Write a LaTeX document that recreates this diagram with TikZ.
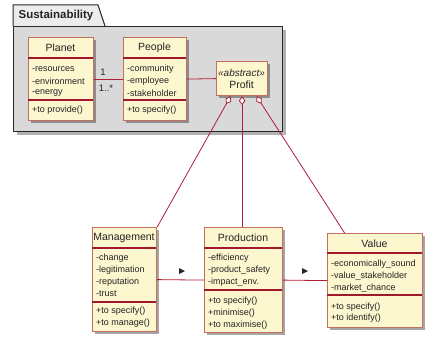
\documentclass[tikz,border=0pt]{standalone}
\usepackage{fontspec}
\setmainfont{Liberation Sans}
\usetikzlibrary{shadows,arrows.meta}

\definecolor{boxfill}{RGB}{253,247,208}
\definecolor{boxborder}{RGB}{196,110,95}
\definecolor{sepline}{RGB}{160,25,45}
\definecolor{linkred}{RGB}{175,30,55}
\definecolor{pkgfill}{RGB}{217,217,217}
\definecolor{tabfill}{RGB}{236,236,236}
\definecolor{pkgborder}{RGB}{40,40,40}
\definecolor{txt}{RGB}{35,35,35}

\tikzset{
 classbox/.style={draw=boxborder, fill=boxfill, line width=1.2pt, anchor=north west, inner sep=0pt,
   drop shadow={shadow xshift=2.5pt, shadow yshift=-2.5pt, opacity=0.35, fill=black}},
 sepl/.style={draw=sepline, line width=1.6pt},
 ctitle/.style={font=\fontsize{10.5}{12}\selectfont, text=txt, inner sep=0pt},
 attr/.style={font=\fontsize{9}{12}\selectfont, text=txt, anchor=west, inner sep=0pt},
 link/.style={draw=linkred, line width=0.8pt},
 agg/.style={link, {Diamond[fill=white,length=9pt,width=6.5pt]}-},
 mult/.style={font=\fontsize{9.5}{12}\selectfont, text=txt, inner sep=0pt},
 dirmark/.style={fill=black!85},
}

\begin{document}
\begin{tikzpicture}[x=1pt,y=-1pt]
\useasboundingbox (0,0) rectangle (425,337);

% package
\node[draw=pkgborder, fill=pkgfill, line width=1.3pt, anchor=north west, inner sep=0pt,
  minimum width=269pt, minimum height=105pt,
  drop shadow={shadow xshift=3pt, shadow yshift=-3pt, opacity=0.3, fill=black}] (pkg) at (13,26) {};
\draw[pkgborder, line width=1pt, fill=tabfill] (13,26) -- (13,5) -- (98,5) -- (105,26);
\node[font=\bfseries\fontsize{11.5}{13}\selectfont, text=txt, inner sep=0pt] (pkgname) at (56,15.5) {Sustainability};

% Planet
\node[classbox, minimum width=65pt, minimum height=83pt] (planet) at (28,37) {};
\draw[sepl] (28,58) -- (93,58);
\draw[sepl] (28,100) -- (93,100);
\node[ctitle] (planetT) at (60.5,48) {Planet};
\node[attr] (pa1) at (32,69) {-resources};
\node[attr] (pa2) at (32,81) {-environment};
\node[attr] (pa3) at (32,93) {-energy};
\node[attr] (pm1) at (32,110) {+to provide()};

% People
\node[classbox, minimum width=63pt, minimum height=83pt] (people) at (123,37) {};
\draw[sepl] (123,58) -- (186,58);
\draw[sepl] (123,100) -- (186,100);
\node[ctitle] (peopleT) at (154.5,48) {People};
\node[attr] (qa1) at (127,69) {-community};
\node[attr] (qa2) at (127,81) {-employee};
\node[attr] (qa3) at (127,93) {-stakeholder};
\node[attr] (qm1) at (127,110) {+to specify()};

% Profit
\node[classbox, minimum width=51pt, minimum height=34pt] (profit) at (216,61) {};
\node[font=\itshape\fontsize{10}{12}\selectfont, text=txt, inner sep=0pt] (profA) at (241.5,72.5) {«abstract»};
\node[ctitle] (profT) at (241.5,85) {Profit};

% Management
\node[classbox, minimum width=64pt, minimum height=104pt] (management) at (92,227) {};
\draw[sepl] (92,248) -- (156,248);
\draw[sepl] (92,302) -- (156,302);
\node[ctitle] (manT) at (124,237.5) {Management};
\node[attr] (ma1) at (96,258) {-change};
\node[attr] (ma2) at (96,270) {-legitimation};
\node[attr] (ma3) at (96,282) {-reputation};
\node[attr] (ma4) at (96,294) {-trust};
\node[attr] (mm1) at (96,311.5) {+to specify()};
\node[attr] (mm2) at (96,323.5) {+to manage()};

% Production
\node[classbox, minimum width=78pt, minimum height=105pt] (production) at (204,227) {};
\draw[sepl] (204,248) -- (282,248);
\draw[sepl] (204,290) -- (282,290);
\node[ctitle] (prodT) at (243,237.5) {Production};
\node[attr] (ra1) at (208,258) {-efficiency};
\node[attr] (ra2) at (208,270) {-product\_safety};
\node[attr] (ra3) at (208,282) {-impact\_env.};
\node[attr] (rm1) at (208,301) {+to specify()};
\node[attr] (rm2) at (208,313) {+minimise()};
\node[attr] (rm3) at (208,325) {+to maximise()};

% Value
\node[classbox, minimum width=95pt, minimum height=94pt] (value) at (327,233) {};
\draw[sepl] (327,253) -- (422,253);
\draw[sepl] (327,295) -- (422,295);
\node[ctitle] (valT) at (374.5,244) {Value};
\node[attr] (va1) at (331,264) {-economically\_sound};
\node[attr] (va2) at (331,276) {-value\_stakeholder};
\node[attr] (va3) at (331,288) {-market\_chance};
\node[attr] (vm1) at (331,307) {+to specify()};
\node[attr] (vm2) at (331,318) {+to identify()};

% associations
\draw[link] (planet.east) -- (people.west);
\node[mult] (m1) at (103,72) {1};
\node[mult] (m2) at (106,88) {1..*};
\draw[link] (people.east) -- (profit.west);

\draw[link] (management.east) -- (production.west);
\draw[link] (production.east) -- (value.west);
\coordinate (d1) at (182,271);
\coordinate (d2) at (305,271);
\fill[dirmark] ([shift={(-3,-3)}]d1) -- ([shift={(3,0)}]d1) -- ([shift={(-3,3)}]d1) -- cycle;
\fill[dirmark] ([shift={(-3,-3)}]d2) -- ([shift={(3,0)}]d2) -- ([shift={(-3,3)}]d2) -- cycle;

% aggregations
\draw[agg] ([xshift=-11.5pt]profit.south) -- (management.north east);
\draw[agg] (profit.south) -- (profit.south |- production.north);
\draw[agg] ([xshift=14.5pt]profit.south) -- ([xshift=-30.5pt]value.north);
\end{tikzpicture}
\end{document}
